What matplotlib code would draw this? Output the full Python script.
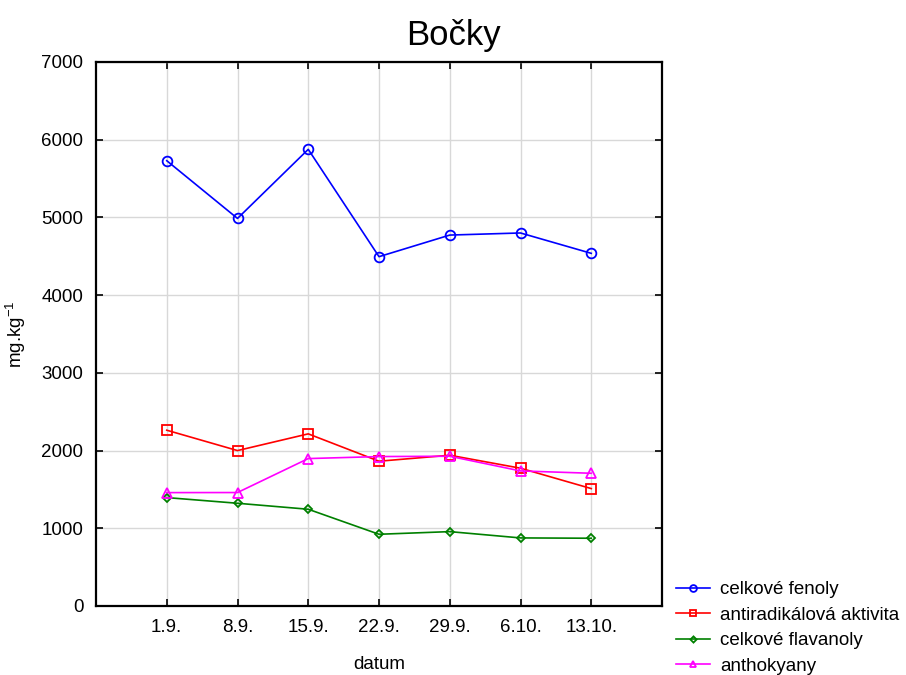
"""Bočky: weekly phenolic profile, line chart."""
import matplotlib.pyplot as plt
import numpy as np

plt.rcParams["font.family"] = ["Liberation Sans", "DejaVu Sans"]
plt.rcParams["mathtext.default"] = "regular"

DATES = ["1.9.", "8.9.", "15.9.", "22.9.", "29.9.", "6.10.", "13.10."]
FENOLY = [5730, 4987, 5876, 4495, 4773, 4800, 4538]
ANTIRADIKAL = [2262, 2000, 2215, 1863, 1940, 1773, 1511]
FLAVANOLY = [1395, 1322, 1245, 923, 957, 876, 872]
ANTHOKYANY = [1459, 1460, 1897, 1923, 1927, 1738, 1708]

SERIES = [
    ("celkové fenoly", FENOLY, "#0000ff", "o", 7),
    ("antiradikálová aktivita", ANTIRADIKAL, "#ff0000", "s", 7),
    ("celkové flavanoly", FLAVANOLY, "#008000", "D", 4.5),
    ("anthokyany", ANTHOKYANY, "#ff00ff", "^", 7),
]

fig = plt.figure(figsize=(9.06, 6.75), dpi=100)
ax = fig.add_axes([96 / 906, 69 / 675, 566 / 906, 544 / 675])

x = np.arange(1, len(DATES) + 1)
handles = []
for label, values, color, marker, ms in SERIES:
    (h,) = ax.plot(x, values, color=color, linewidth=1.2, marker=marker,
                   markersize=ms, markerfacecolor="none", markeredgewidth=1.3,
                   label=label)
    handles.append(h)

ax.set_xlim(0, len(DATES) + 1)
ax.set_ylim(0, 7000)
ax.set_xticks(x)
ax.set_xticklabels(DATES)
ax.set_yticks(np.arange(0, 7001, 1000))
ax.grid(True, color="#d8d8d8", linewidth=1.0)
ax.set_axisbelow(True)
ax.tick_params(direction="in", length=5, width=1.2, labelsize=13.5,
               top=True, right=True, pad=9)
for s in ax.spines.values():
    s.set_linewidth(1.6)

# title is centred on the whole figure, not on the axes
fig.text(0.5, 1 - 45 / 675, "Bočky", fontsize=25, ha="center", va="baseline")
ax.set_xlabel("datum", fontsize=13.5, labelpad=15)
ax.set_ylabel("mg.kg$^{-1}$", fontsize=13.5)
ax.yaxis.set_label_coords(-68 / 566, 0.5)

# legend sits outside the axes, bottom right of the figure
leg = fig.legend(handles=handles, loc="lower left",
                 bbox_to_anchor=(676 / 906, 0), frameon=False,
                 fontsize=13.5, borderpad=0, borderaxespad=0,
                 handlelength=1.8, handletextpad=0.55, labelspacing=0.45,
                 markerscale=0.7)

fig.savefig("out.png", dpi=100)
